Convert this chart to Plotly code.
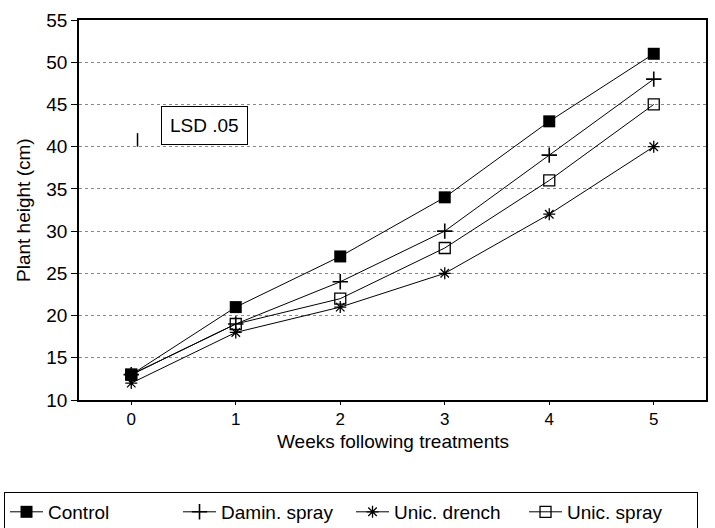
import plotly.graph_objects as go

weeks = [0, 1, 2, 3, 4, 5]
control = [13, 21, 27, 34, 43, 51]
damin_spray = [13, 19, 24, 30, 39, 48]
unic_drench = [12, 18, 21, 25, 32, 40]
unic_spray = [13, 19, 22, 28, 36, 45]
lsd_x = [0.06]
lsd_low = [40.0]
lsd_value = [1.6]

font = "Liberation Sans, Arial, sans-serif"
fig = go.Figure()

series = [
    ("Control", control, "square", 12, 0),
    ("Damin. spray", damin_spray, "cross-thin-open", 11, 1.6),
    ("Unic. drench", unic_drench, "asterisk-open", 10, 1.3),
    ("Unic. spray", unic_spray, "square-open", 11, 1.3),
]
for name, ys, sym, sz, lw in series:
    fig.add_trace(go.Scatter(
        x=weeks, y=ys, name=name, mode="lines+markers",
        line=dict(color="black", width=1),
        marker=dict(symbol=sym, size=sz, color="black",
                    line=dict(color="black", width=lw)),
    ))

# LSD bar
fig.add_trace(go.Scatter(
    x=[lsd_x[0], lsd_x[0]], y=[lsd_low[0], lsd_low[0] + lsd_value[0]],
    mode="lines", line=dict(color="black", width=1.5),
    showlegend=False, hoverinfo="skip",
))

fig.add_annotation(
    x=0.28, y=42.45, xref="x", yref="y", xanchor="left", yanchor="middle",
    text="LSD .05", showarrow=False, bordercolor="black", borderwidth=1,
    borderpad=8, font=dict(family=font, size=19, color="black"),
)
fig.add_annotation(
    x=0.5, y=(400 - 442) / 380, xref="paper", yref="paper",
    xanchor="center", yanchor="middle", showarrow=False,
    text="Weeks following treatments",
    font=dict(family=font, size=19, color="black"),
)
fig.add_annotation(
    x=(23 - 79) / 627, y=0.5, xref="paper", yref="paper",
    xanchor="center", yanchor="middle", showarrow=False, textangle=-90,
    text="Plant height (cm)",
    font=dict(family=font, size=19, color="black"),
)

fig.update_layout(
    width=715, height=528,
    margin=dict(l=79, r=9, t=20, b=128, autoexpand=False),
    paper_bgcolor="white", plot_bgcolor="white",
    font=dict(family=font, size=19, color="black"),
    showlegend=True,
    legend=dict(
        orientation="h", x=-0.1196, y=-0.242, xanchor="left", yanchor="top",
        bordercolor="black", borderwidth=1,
        font=dict(family=font, size=19, color="black"),
        itemwidth=33, entrywidth=125, entrywidthmode="pixels",
        tracegroupgap=0,
    ),
    xaxis=dict(
        range=[-0.5, 5.5], tickvals=weeks, ticks="outside", ticklen=3,
        tickcolor="black", showline=True, linecolor="black", linewidth=1.5,
        mirror=True, showgrid=False, zeroline=False, automargin=False,
        tickfont=dict(family=font, size=17, color="black"),
    ),
    yaxis=dict(
        range=[10, 55], dtick=5, ticks="outside", ticklen=6,
        tickcolor="black", showline=True, linecolor="black", linewidth=1.5,
        mirror=True, showgrid=True, gridcolor="#888888", griddash="dot",
        gridwidth=1, zeroline=False, automargin=False,
        tickfont=dict(family=font, size=19, color="black"),
    ),
)

fig.write_html(
    "out.html",
    config={"displayModeBar": False},
    post_script="document.body.style.margin='0';document.body.style.overflow='hidden';",
)
